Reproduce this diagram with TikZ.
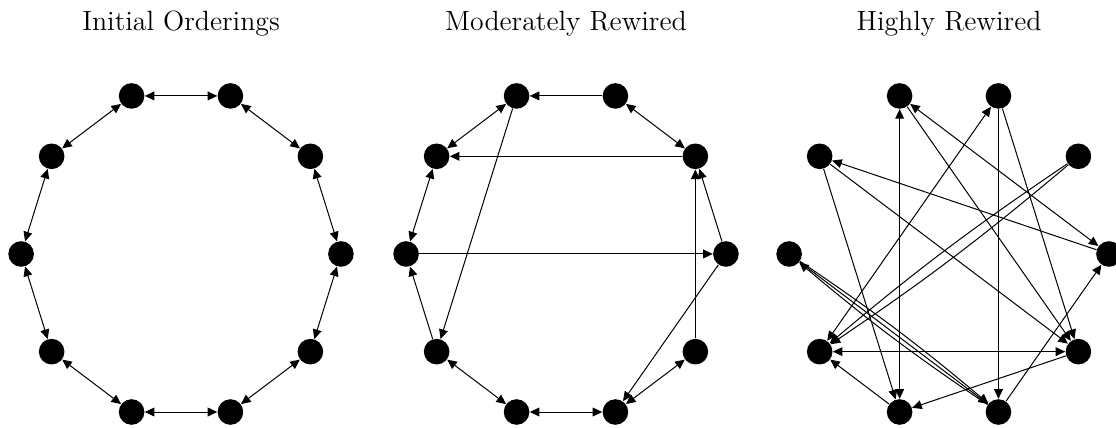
\documentclass[tikz,border=0pt]{standalone}
\usepackage{tikz}
\usetikzlibrary{arrows.meta}

\begin{document}
\begin{tikzpicture}[
  dot/.style={circle,fill=black,inner sep=0pt,minimum size=12.8pt},
  arc/.style={-{Triangle[length=4.8pt,width=4.4pt]},line width=0.5pt},
  both/.style={{Triangle[length=4.8pt,width=4.4pt]}-{Triangle[length=4.8pt,width=4.4pt]},line width=0.5pt},
  title/.style={font=\fontsize{13.9}{16}\selectfont,anchor=base}]
  \useasboundingbox (0,0) rectangle (19.611,-7.504);
  % initial ring
  \begin{scope}[shift={(3.181,-4.463)}]
    \foreach \k in {0,...,9}
      \node[dot] (i\k) at ({2.81*cos(36*\k)},{2.92*sin(36*\k)}) {};
    \foreach \k/\n in {0/1,1/2,2/3,3/4,4/5,5/6,6/7,7/8,8/9,9/0}
      \draw[both] (i\k) -- (i\n);
    \node[title] (ti) at (0,3.92) {Initial Orderings};
  \end{scope}
  % a few edges rewired
  \begin{scope}[shift={(9.946,-4.463)}]
    \foreach \k in {0,...,9}
      \node[dot] (m\k) at ({2.81*cos(36*\k)},{2.92*sin(36*\k)}) {};
    \foreach \k/\n in {3/4,1/2,4/5,6/7,7/8,8/9}
      \draw[both] (m\k) -- (m\n);
    \foreach \k/\n in {2/3,1/4,5/0,3/6,6/5,0/8,9/1,0/1}
      \draw[arc] (m\k) -- (m\n);
    \node[title] (tm) at (0,3.92) {Moderately Rewired};
  \end{scope}
  % most edges rewired
  \begin{scope}[shift={(16.677,-4.463)}]
    \foreach \k in {0,...,9}
      \node[dot] (h\k) at ({2.81*cos(36*\k)},{2.92*sin(36*\k)}) {};
    \foreach \k/\n in {3/7,3/0,2/6,6/9}
      \draw[both] (h\k) -- (h\n);
    \foreach \k/\n in {2/8,3/9,2/9,0/4,4/9,4/7,7/6,9/7,8/0}
      \draw[arc] (h\k) -- (h\n);
    \draw[arc] (h1) to[bend left=3] (h6);
    \draw[arc] (h1) to[bend right=3] (h6);
    \draw[arc] (h5) to[bend left=3] (h8);
    \draw[arc] (h5) -- (h8);
    \draw[arc] (h8) to[bend left=3] (h5);
    \node[title] (th) at (0,3.92) {Highly Rewired};
  \end{scope}
\end{tikzpicture}
\end{document}
